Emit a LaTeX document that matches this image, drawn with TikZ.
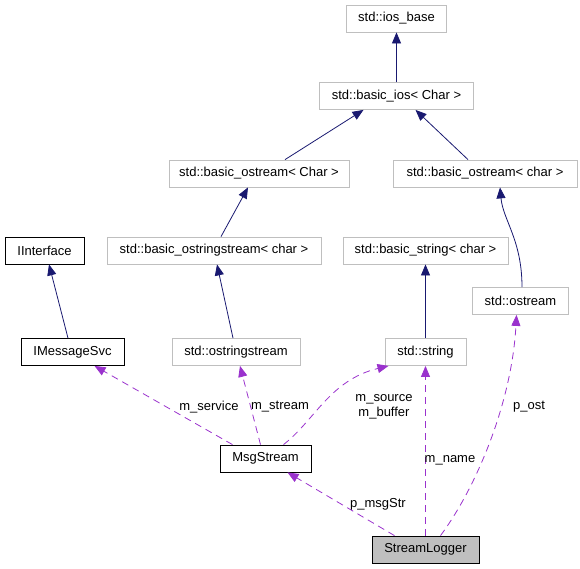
\documentclass[tikz,border=0pt]{standalone}
\usepackage{fontspec}
\setmainfont{Liberation Sans}
\usetikzlibrary{arrows.meta}
\definecolor{inhblue}{RGB}{25,25,112}
\definecolor{usepurple}{RGB}{154,50,205}
\definecolor{extgray}{RGB}{191,191,191}

\begin{document}
\begin{tikzpicture}[x=1pt, y=-1pt, >={Triangle[length=11pt,width=9pt]},
        cls/.style={draw=black, line width=0.8pt, minimum height=27pt,
                    inner sep=0pt, font=\fontsize{13}{15}\selectfont},
        ext/.style={cls, draw=extgray},
        inh/.style={->, draw=inhblue, line width=0.8pt},
        use/.style={->, draw=usepurple, line width=0.8pt, dash pattern=on 7pt off 5pt},
        lbl/.style={inner sep=0pt, align=center, font=\fontsize{13}{15}\selectfont}]
      \useasboundingbox (0,0) rectangle (580,568);
      \node[ext, minimum width=100pt] (iosb)  at (396.5,18.5)  {std::ios\_base};
      \node[ext, minimum width=154pt] (bios)  at (396.5,96)    {std::basic\_ios< Char >};
      \node[ext, minimum width=180pt] (bosC)  at (259,173.5)   {std::basic\_ostream< Char >};
      \node[ext, minimum width=184pt] (bosc)  at (485,173.5)   {std::basic\_ostream< char >};
      \node[cls, minimum width=79pt]  (iint)  at (44.5,250.5)  {IInterface};
      \node[ext, minimum width=214pt] (bossc) at (214,250.5)   {std::basic\_ostringstream< char >};
      \node[ext, minimum width=165pt] (bstr)  at (425.5,250.5) {std::basic\_string< char >};
      \node[ext, minimum width=96pt]  (ost)   at (520.5,301)   {std::ostream};
      \node[cls, minimum width=103pt] (imsg)  at (72.5,352)    {IMessageSvc};
      \node[ext, minimum width=128pt] (oss)   at (236,352)     {std::ostringstream};
      \node[ext, minimum width=81pt]  (str)   at (425.5,352)   {std::string};
      \node[cls, minimum width=91pt]  (msg)   at (265.5,458.5) {MsgStream};
      \node[cls, minimum width=107pt, fill=extgray] (slog) at (425.5,549.5) {StreamLogger};
      % inheritance
      \draw[inh] (bios.north) -- (iosb.south);
      \draw[inh] ([xshift=26pt]bosC.north) -- ([xshift=-33pt]bios.south);
      \draw[inh] ([xshift=-17pt]bosc.north) -- ([xshift=19pt]bios.south);
      \draw[inh] ([xshift=7pt]bossc.north) -- ([xshift=-11pt]bosC.south);
      \draw[inh] ([xshift=1.5pt]ost.north) .. controls (522,240) and (503,220) .. ([xshift=15pt]bosc.south);
      \draw[inh] ([xshift=-4.5pt]imsg.north) -- ([xshift=4.5pt]iint.south);
      \draw[inh] ([xshift=-3pt]oss.north) -- ([xshift=3pt]bossc.south);
      \draw[inh] (str.north) -- (bstr.south);
      % usage
      \draw[use] ([xshift=-33pt]msg.north) -- ([xshift=22pt]imsg.south);
      \draw[use] ([xshift=-5pt]msg.north) -- ([xshift=4pt]oss.south);
      \draw[use] ([xshift=18pt]msg.north) .. controls (315,420) and (330,380) .. ([xshift=-37pt]str.south);
      \draw[use] (slog.north) -- (str.south);
      \draw[use] ([xshift=15pt]slog.north) .. controls (478,485) and (512,400) .. ([xshift=-4pt]ost.south);
      \draw[use] ([xshift=-31pt]slog.north) -- ([xshift=22pt]msg.south);
      \node[lbl] (lsvc) at (209,407) {m\_service};
      \node[lbl] (lstr) at (280,407) {m\_stream};
      \node[lbl] (lsrc) at (384,406.5) {m\_source\\m\_buffer};
      \node[lbl] (lnam) at (450,460) {m\_name};
      \node[lbl] (lost) at (529,407) {p\_ost};
      \node[lbl] (lmsg) at (378,504) {p\_msgStr};
    \end{tikzpicture}
\end{document}
